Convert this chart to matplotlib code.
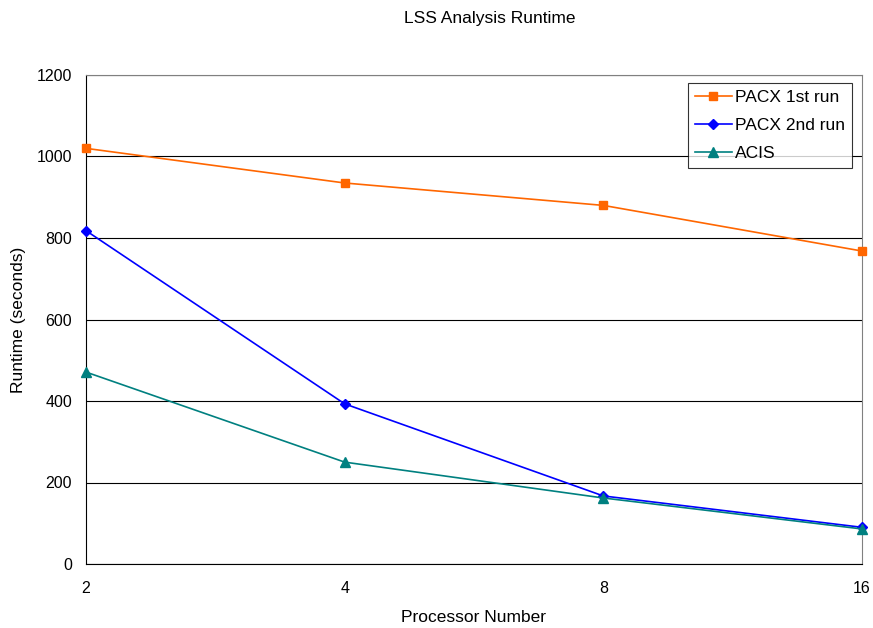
import matplotlib
matplotlib.use('Agg')
import matplotlib.pyplot as plt

plt.rcParams['font.family'] = ['Liberation Sans', 'DejaVu Sans']

procs = ['2', '4', '8', '16']
pacx_1st = [1020, 935, 880, 768]
pacx_2nd = [818, 393, 167, 90]
acis = [471, 250, 162, 86]

fig = plt.figure(figsize=(8.73, 6.28), dpi=100)
L, R, T, B = 86, 862, 75, 564
W, H = R - L, B - T
ax = fig.add_axes([L / 873, 1 - B / 628, W / 873, H / 628])

x = range(len(procs))
ax.plot(x, pacx_1st, color='#ff6600', marker='s', markersize=6, lw=1.2, label='PACX 1st run', clip_on=False, zorder=3)
ax.plot(x, pacx_2nd, color='#0000ff', marker='D', markersize=5, lw=1.2, label='PACX 2nd run', clip_on=False, zorder=3)
ax.plot(x, acis, color='#008080', marker='^', markersize=7, lw=1.2, label='ACIS', clip_on=False, zorder=3)

ax.set_xlim(0, len(procs) - 1)
ax.set_ylim(0, 1200)
ax.set_xticks(list(x))
ax.set_xticklabels(procs)
ax.set_yticks(range(0, 1201, 200))
ax.yaxis.grid(True, color='black', lw=0.8)
ax.set_axisbelow(True)

ax.spines['left'].set_color('black')
ax.spines['bottom'].set_color('black')
ax.spines['top'].set_color('#808080')
ax.spines['right'].set_color('#808080')
ax.tick_params(axis='y', length=0, labelsize=11.5, pad=10)
ax.tick_params(axis='x', length=0, labelsize=11.5, pad=12)

ax.set_xlabel('Processor Number', fontsize=12.5, va='center')
ax.xaxis.set_label_coords((473.5 - L) / W, -(617 - B) / H)
ax.set_ylabel('Runtime (seconds)', fontsize=12.5, va='center')
ax.yaxis.set_label_coords(-(L - 18) / W, 0.5)
fig.text(490 / 873, 1 - 18 / 628, 'LSS Analysis Runtime', fontsize=12.5, ha='center', va='center')

leg = ax.legend(loc='upper right', bbox_to_anchor=((852 - L) / W, (B - 83) / H),
                borderaxespad=0, fontsize=12.5, frameon=True, fancybox=False,
                edgecolor='black', handlelength=2.1, handletextpad=0.2, labelspacing=0.75,
                borderpad=0.4)
leg.get_frame().set_linewidth(0.8)

fig.savefig('out.png', dpi=100)
